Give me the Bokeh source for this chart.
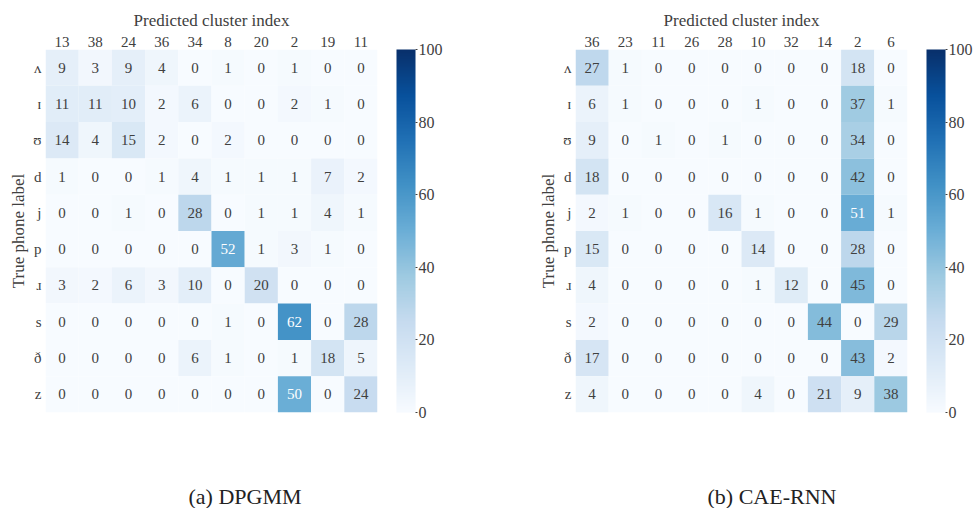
from bokeh.plotting import figure
from bokeh.layouts import row, column
from bokeh.models import (ColumnDataSource, LinearColorMapper, ColorBar, FixedTicker,
                          FactorRange, Div)
from bokeh.palettes import Blues256
from bokeh.core.properties import value
from bokeh.embed import file_html
from bokeh.resources import INLINE

phones = ["ʌ", "ɪ", "ʊ", "d", "j", "p", "ɹ", "s", "ð", "z"]

dpgmm_clusters = ["13", "38", "24", "36", "34", "8", "20", "2", "19", "11"]
dpgmm_counts = [
    [9, 3, 9, 4, 0, 1, 0, 1, 0, 0],
    [11, 11, 10, 2, 6, 0, 0, 2, 1, 0],
    [14, 4, 15, 2, 0, 2, 0, 0, 0, 0],
    [1, 0, 0, 1, 4, 1, 1, 1, 7, 2],
    [0, 0, 1, 0, 28, 0, 1, 1, 4, 1],
    [0, 0, 0, 0, 0, 52, 1, 3, 1, 0],
    [3, 2, 6, 3, 10, 0, 20, 0, 0, 0],
    [0, 0, 0, 0, 0, 1, 0, 62, 0, 28],
    [0, 0, 0, 0, 6, 1, 0, 1, 18, 5],
    [0, 0, 0, 0, 0, 0, 0, 50, 0, 24],
]

caernn_clusters = ["36", "23", "11", "26", "28", "10", "32", "14", "2", "6"]
caernn_counts = [
    [27, 1, 0, 0, 0, 0, 0, 0, 18, 0],
    [6, 1, 0, 0, 0, 1, 0, 0, 37, 1],
    [9, 0, 1, 0, 1, 0, 0, 0, 34, 0],
    [18, 0, 0, 0, 0, 0, 0, 0, 42, 0],
    [2, 1, 0, 0, 16, 1, 0, 0, 51, 1],
    [15, 0, 0, 0, 0, 14, 0, 0, 28, 0],
    [4, 0, 0, 0, 0, 1, 12, 0, 45, 0],
    [2, 0, 0, 0, 0, 0, 0, 44, 0, 29],
    [17, 0, 0, 0, 0, 0, 0, 0, 43, 2],
    [4, 0, 0, 0, 0, 4, 0, 21, 9, 38],
]

captions = ["(a) DPGMM", "(b) CAE-RNN"]
cbar_ticks = [0, 20, 40, 60, 80, 100]

FONT = "Liberation Serif"
TXT = "#404040"
palette = list(reversed(Blues256))
VMIN, VMAX = 0, 100
FW, FH = 332, 363
BT, BB = 49, 8


def lum(hexc):
    r, g, b = [int(hexc[i:i + 2], 16) / 255 for i in (1, 3, 5)]
    def f(c):
        return c / 12.92 if c <= 0.03928 else ((c + 0.055) / 1.055) ** 2.4
    return 0.2126 * f(r) + 0.7152 * f(g) + 0.0722 * f(b)


def panel(clusters, counts, caption, bl, br, pad_l, pad_r):
    width = bl + FW + br
    mapper = LinearColorMapper(palette=palette, low=VMIN, high=VMAX)
    xs, ys, vals, txt, tcol = [], [], [], [], []
    for i, ph in enumerate(phones):
        for j, cl in enumerate(clusters):
            v = counts[i][j]
            xs.append(cl)
            ys.append(ph)
            vals.append(v)
            txt.append(str(v))
            idx = int(round((v - VMIN) / (VMAX - VMIN) * (len(palette) - 1)))
            tcol.append("#ffffff" if lum(palette[idx]) < 0.408 else TXT)
    src = ColumnDataSource(dict(x=xs, y=ys, v=vals, t=txt, tc=tcol))

    p = figure(frame_width=FW, frame_height=FH, output_backend="svg", toolbar_location=None,
               x_range=FactorRange(factors=clusters, range_padding=0),
               y_range=FactorRange(factors=list(reversed(phones)), range_padding=0),
               x_axis_location="above", tools="",
               min_border_left=bl, min_border_right=br, min_border_top=BT, min_border_bottom=BB)
    p.rect(x="x", y="y", width=1, height=1, source=src,
           fill_color={"field": "v", "transform": mapper}, line_color=None)
    p.text(x="x", y="y", text="t", source=src, text_align="center", text_baseline="middle",
           text_font=value(FONT), text_font_size="15px", text_color="tc")

    p.outline_line_color = None
    p.grid.grid_line_color = None
    for ax in (p.xaxis[0], p.yaxis[0]):
        ax.axis_line_color = None
        ax.major_tick_line_color = None
        ax.minor_tick_line_color = None
        ax.major_tick_out = 0
        ax.major_tick_in = 0
        ax.major_label_text_font = FONT
        ax.major_label_text_font_size = "15px"
        ax.major_label_text_color = TXT
        ax.axis_label_text_font = FONT
        ax.axis_label_text_font_size = "17px"
        ax.axis_label_text_font_style = "normal"
        ax.axis_label_text_color = TXT
    p.xaxis.major_label_standoff = 3
    p.xaxis.axis_label_standoff = 4
    p.yaxis.major_label_standoff = 4
    p.yaxis.axis_label_standoff = 2
    p.xaxis.axis_label = "Predicted cluster index"
    p.yaxis.axis_label = "True phone label"
    p.yaxis.major_label_orientation = "horizontal"

    cb = ColorBar(color_mapper=mapper, ticker=FixedTicker(ticks=cbar_ticks), width=19,
                  location=(19, 0), margin=0, padding=0, bar_line_color=None,
                  border_line_color=None, background_fill_color=None,
                  major_tick_in=0, major_tick_out=2,
                  major_tick_line_color=TXT, minor_tick_line_color=None,
                  major_label_text_font=FONT, major_label_text_font_size="16px",
                  major_label_text_color=TXT, label_standoff=1)
    p.add_layout(cb, "right")

    cap = Div(text=(f'<div style="box-sizing:border-box;width:{width}px;height:88px;'
                    f'overflow:hidden;text-align:center;'
                    f'padding:66px {pad_r}px 0px {pad_l}px;font-family:\'{FONT}\';'
                    f'font-size:22px;line-height:22px;color:#222222">{caption}</div>'),
              width=width, height=88, margin=0)
    return column(p, cap, spacing=0)


p1 = panel(dpgmm_clusters, dpgmm_counts, captions[0], 45, 117, 0, 4)
p2 = panel(caernn_clusters, caernn_counts, captions[1], 81, 65, 78, 0)
layout = row(p1, p2, spacing=0)
open("out.html", "w").write(file_html(layout, INLINE))
